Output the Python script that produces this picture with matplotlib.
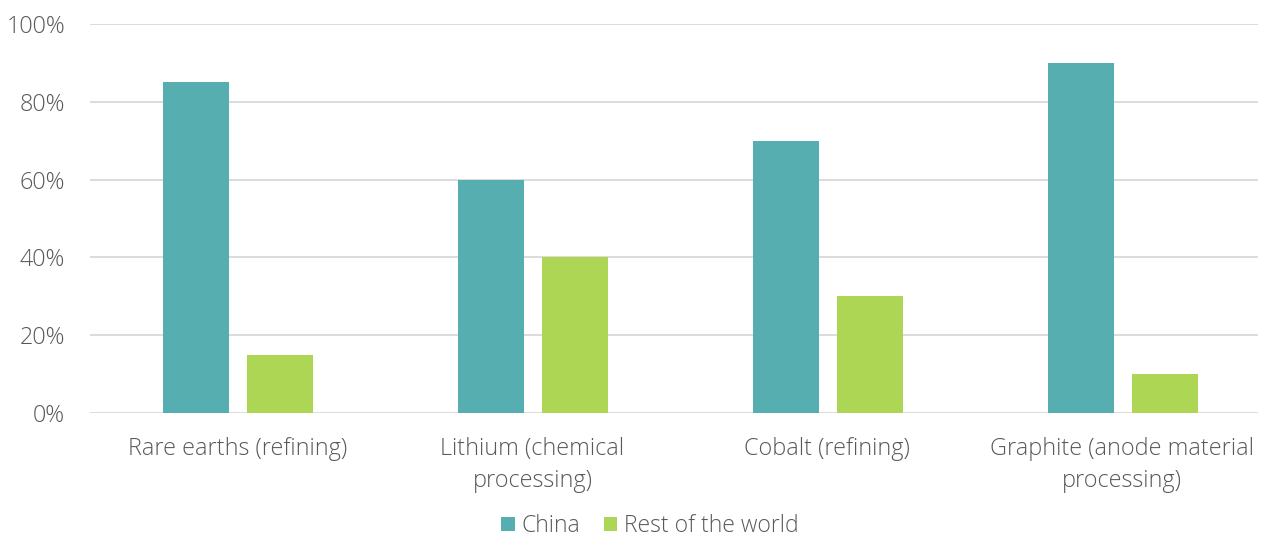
import matplotlib.pyplot as plt
import numpy as np

# --- Data ---
categories = ["Rare earths (refining)", "Lithium (chemical\nprocessing)",
              "Cobalt (refining)", "Graphite (anode material\nprocessing)"]
china = [85, 60, 70, 90]
rest_of_world = [15, 40, 30, 10]

plt.rcParams['font.family'] = ['Open Sans', 'DejaVu Sans']
plt.rcParams['font.weight'] = 'light'
text_color = "#595959"

fig = plt.figure(figsize=(12.61, 5.41), dpi=100)
ax = fig.add_axes([0.0714, 0.2366, 0.9266, 0.719])

x = np.arange(len(categories))
w = 0.224
ax.bar(x - 0.141, china, w, color="#57AEB0", label="China", zorder=3)
ax.bar(x + 0.144, rest_of_world, w, color="#ADD655", label="Rest of the world", zorder=3)

ax.set_xlim(-0.5, 3.462)
ax.set_ylim(0, 100)
ax.set_yticks(range(0, 101, 20))
ax.set_yticklabels([f"{v}%" for v in range(0, 101, 20)])
ax.set_xticks(x)
ax.set_xticklabels(categories, linespacing=1.45)

ax.grid(axis="y", color="#D9D9D9", linewidth=1.3, zorder=0)
for s in ax.spines.values():
    s.set_visible(False)
ax.tick_params(axis="both", length=0, labelsize=16.8, labelcolor=text_color)
ax.tick_params(axis="x", pad=17)
ax.tick_params(axis="y", pad=18)

leg = fig.legend(loc="lower center", bbox_to_anchor=(0.5155, -0.024), ncol=2, frameon=False,
                 fontsize=16.5, handlelength=0.6, handleheight=0.6, handletextpad=0.3,
                 columnspacing=1.0, borderaxespad=0.3)
for t in leg.get_texts():
    t.set_color(text_color)

fig.savefig("out.png", dpi=100)
